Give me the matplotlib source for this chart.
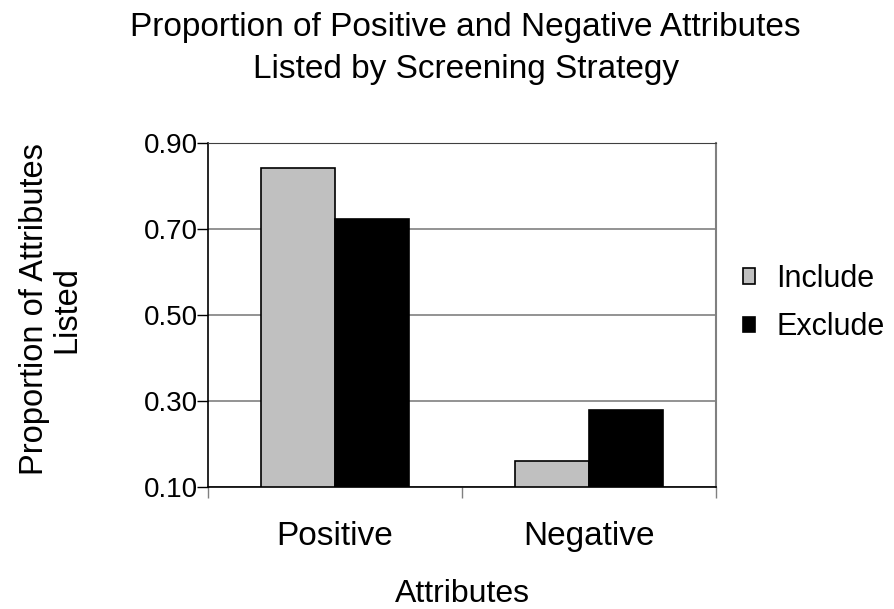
import numpy as np
import matplotlib
matplotlib.use("Agg")
import matplotlib.pyplot as plt

plt.rcParams['font.family'] = ['Liberation Sans', 'DejaVu Sans']

categories = ["Positive", "Negative"]
include = [0.842, 0.161]
exclude = [0.724, 0.279]
yticks = [0.10, 0.30, 0.50, 0.70, 0.90]

fig = plt.figure(figsize=(8.94, 6.09), dpi=100)
ax = fig.add_axes([0.2327, 0.2008, 0.5683, 0.5639])

x = np.arange(len(categories))
w = 0.29
ax.bar(x - w / 2, np.array(include) - 0.1, w, bottom=0.1, color="#C0C0C0",
       edgecolor="black", linewidth=1.2, label="Include", zorder=3)
ax.bar(x + w / 2, np.array(exclude) - 0.1, w, bottom=0.1, color="black",
       edgecolor="black", linewidth=1.2, label="Exclude", zorder=3)

ax.set_xlim(-0.5, 1.5)
ax.set_ylim(0.10, 0.90)
ax.set_yticks(yticks)
ax.set_yticklabels([f"{v:.2f}" for v in yticks])
ax.yaxis.grid(True, color="#808080", linewidth=1.2, zorder=0)
ax.set_axisbelow(True)

ax.set_xticks([-0.5, 0.5, 1.5])
ax.set_xticklabels([])
ax.set_xticks(x, minor=True)
ax.set_xticklabels(categories, minor=True)
ax.tick_params(axis="x", which="minor", length=0, pad=25, labelsize=24)
ax.tick_params(axis="x", which="major", length=8, width=1, color="#808080", direction="out")
ax.tick_params(axis="y", length=8, width=1, direction="out", labelsize=20, pad=-1)

ax.spines["left"].set_color("black")
ax.spines["bottom"].set_color("black")
ax.spines["left"].set_linewidth(1.2)
ax.spines["bottom"].set_linewidth(1.2)
ax.spines["top"].set_color("#404040")
ax.spines["right"].set_color("#808080")
ax.spines["right"].set_linewidth(1.5)

ax.set_xlabel("Attributes", fontsize=23)
ax.xaxis.set_label_coords(0.5, -0.27)
ax.set_ylabel("Proportion of Attributes\nListed", fontsize=23.5, linespacing=1.07)
ax.yaxis.set_label_coords(-0.247, 0.517)

fig.text(0.521, 1 - 36 / 609, "Proportion of Positive and Negative Attributes",
         fontsize=24, ha="center", va="baseline")
fig.text(0.521, 1 - 78 / 609, "Listed by Screening Strategy",
         fontsize=24, ha="center", va="baseline")

fig.legend(loc="center left", bbox_to_anchor=(743 / 894, 1 - 303 / 609), frameon=False,
           fontsize=22, handlelength=0.4, handleheight=0.4, handletextpad=0.7,
           labelspacing=0.6, borderpad=0, borderaxespad=0)

fig.savefig("out.png", dpi=100)
